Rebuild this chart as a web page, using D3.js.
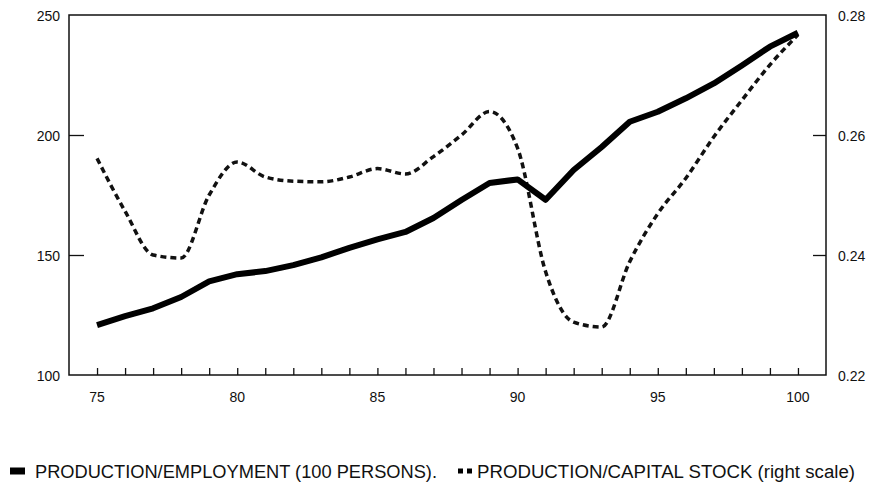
<!DOCTYPE html>
<html><head><meta charset="utf-8">
<script src="https://cdn.jsdelivr.net/npm/d3@7"></script>
<style>
html,body{margin:0;padding:0;background:#fff;}
svg{display:block;}
text{font-family:"Liberation Sans",Arial,sans-serif;fill:#111;}
</style></head>
<body>
<svg id="chart" width="874" height="486"></svg>
<script>
const years = [75,76,77,78,79,80,81,82,83,84,85,86,87,88,89,90,91,92,93,94,95,96,97,98,99,100];
const prodEmployment = [120.8,124.5,127.8,132.5,139,142,143.3,145.8,149,153,156.5,159.6,165.4,172.9,180,181.5,173,185.4,195,205.5,209.7,215.3,221.5,229,236.8,242.6];
const prodCapital = [0.2561,0.2473,0.2400,0.2395,0.2500,0.2555,0.2530,0.2523,0.2522,0.2530,0.2544,0.2535,0.2564,0.2600,0.2639,0.2578,0.2372,0.2288,0.2280,0.2389,0.2469,0.2528,0.2597,0.2658,0.2717,0.2767];
const leftTicks = [100,150,200,250];
const rightTicks = [0.22,0.24,0.26,0.28];
const xLabelTicks = [75,80,85,90,95,100];
const legendLabels = ["PRODUCTION/EMPLOYMENT (100 PERSONS).", "PRODUCTION/CAPITAL STOCK (right scale)"];

const svg = d3.select("#chart");
const L = 69, R = 826, T = 15, B = 375;
const x = d3.scaleLinear().domain([74,101]).range([L,R]);
const yL = d3.scaleLinear().domain([100,250]).range([B,T]);
const yR = d3.scaleLinear().domain([0.22,0.28]).range([B,T]);

// frame
svg.append("rect").attr("x",L).attr("y",T).attr("width",R-L).attr("height",B-T)
  .attr("fill","none").attr("stroke","#111").attr("stroke-width",1.5);

// bottom ticks (inward)
const xAxis = d3.axisBottom(x).tickValues(years).tickSize(-7).tickFormat("");
const gx = svg.append("g").attr("transform",`translate(0,${B})`).call(xAxis);
gx.select(".domain").remove();
gx.selectAll("line").attr("stroke","#111").attr("stroke-width",1.3);
svg.append("g").selectAll("text").data(xLabelTicks).join("text")
  .attr("x",d=>x(d)).attr("y",B+27).attr("text-anchor","middle")
  .attr("font-size",14).text(d=>d);

// left axis ticks & labels
const gl = svg.append("g").attr("transform",`translate(${L},0)`)
  .call(d3.axisLeft(yL).tickValues(leftTicks).tickSize(-15).tickFormat(""));
gl.select(".domain").remove();
gl.selectAll("line").attr("stroke","#111").attr("stroke-width",1.3)
  .filter(d=>d===100||d===250).remove();
svg.append("g").selectAll("text").data(leftTicks).join("text")
  .attr("x",L-9).attr("y",d=>yL(d)+6).attr("text-anchor","end")
  .attr("font-size",14).text(d=>d);

// right axis ticks & labels
const gr = svg.append("g").attr("transform",`translate(${R},0)`)
  .call(d3.axisRight(yR).tickValues(rightTicks).tickSize(-13).tickFormat(""));
gr.select(".domain").remove();
gr.selectAll("line").attr("stroke","#111").attr("stroke-width",1.3)
  .filter(d=>d===0.22||d===0.28).remove();
svg.append("g").selectAll("text").data(rightTicks).join("text")
  .attr("x",R+12).attr("y",d=>yR(d)+6).attr("text-anchor","start")
  .attr("font-size",14).text(d=>d3.format(".2f")(d));

// lines
const solid = d3.line().x((d,i)=>x(years[i])).y(d=>yL(d)).curve(d3.curveLinear);
const dashed = d3.line().x((d,i)=>x(years[i])).y(d=>yR(d)).curve(d3.curveMonotoneX);
svg.append("path").datum(prodCapital).attr("d",dashed).attr("fill","none")
  .attr("stroke","#111").attr("stroke-width",3.5).attr("stroke-dasharray","6,4");
svg.append("path").datum(prodEmployment).attr("d",solid).attr("fill","none")
  .attr("stroke","#000").attr("stroke-width",6).attr("stroke-linejoin","round");

// legend
const ly = 478;
const lg = svg.append("g");
lg.append("line").attr("x1",10).attr("x2",25).attr("y1",ly-7).attr("y2",ly-7)
  .attr("stroke","#000").attr("stroke-width",7);
lg.append("text").attr("x",35).attr("y",ly).attr("font-size",18)
  .attr("textLength",402).attr("lengthAdjust","spacingAndGlyphs").text(legendLabels[0]);
lg.append("line").attr("x1",458).attr("x2",472).attr("y1",ly-7).attr("y2",ly-7)
  .attr("stroke","#000").attr("stroke-width",5).attr("stroke-dasharray","5,4");
lg.append("text").attr("x",477).attr("y",ly).attr("font-size",18)
  .attr("textLength",378).attr("lengthAdjust","spacingAndGlyphs").text(legendLabels[1]);
</script>
</body></html>
